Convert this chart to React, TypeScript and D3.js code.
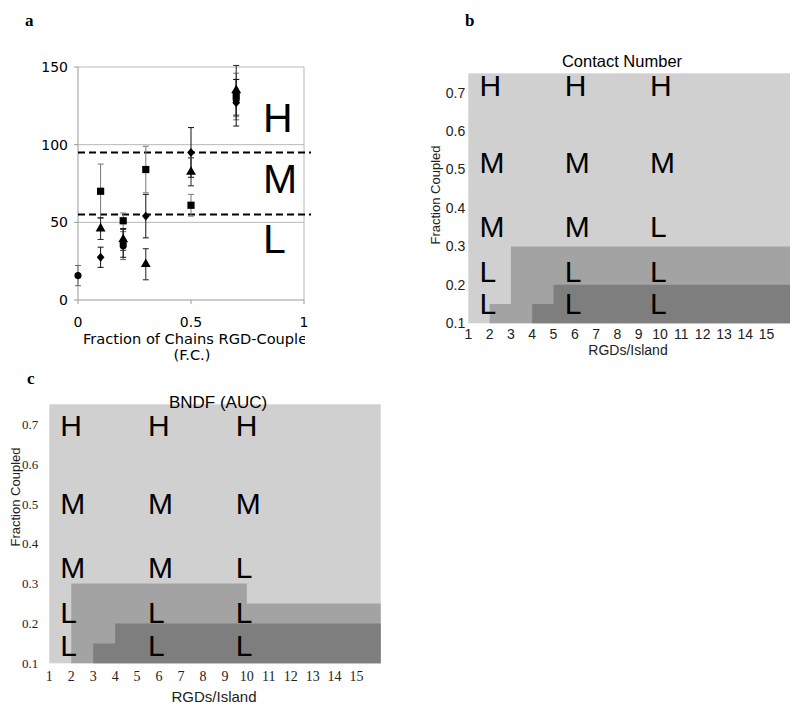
import React from "react";
import * as d3 from "d3";

// ---------- Panel a data ----------
const aXTicks = [0, 0.5, 1];
const aYTicks = [0, 50, 100, 150];
const aThresholds = [55, 95];
const aZoneLetters = ["H", "M", "L"];
const aZoneLetterY = [108, 69, 30]; // baseline in data units

const circleX = [0, 0.2, 0.7];
const circleY = [15.7, 35, 129];
const circleErr = [6.5, 9, 13];

const diamondX = [0.1, 0.2, 0.3, 0.5, 0.7];
const diamondY = [27.5, 36.5, 54, 95, 127];
const diamondErr = [6.5, 9, 14, 16, 15];

const triangleX = [0.1, 0.2, 0.3, 0.5, 0.7];
const triangleY = [46, 39, 23, 82.5, 135];
const triangleErr = [7, 7, 10, 9, 16];

const squareX = [0.1, 0.2, 0.3, 0.5, 0.7];
const squareY = [70, 51, 84, 61, 132];
const squareErr = [17.5, 5, 15, 7, 14];

// ---------- Panels b / c data ----------
const rgdTicks = [1, 2, 3, 4, 5, 6, 7, 8, 9, 10, 11, 12, 13, 14, 15];
const fracTicks = [0.1, 0.2, 0.3, 0.4, 0.5, 0.6, 0.7];
const rgdDomain = [1, 16.1];
const fracDomain = [0.1, 0.75];

const bMidX = [2, 3, 16.1];
const bMidTop = [0.15, 0.3, 0.3];
const bDarkX = [4, 5, 16.1];
const bDarkTop = [0.15, 0.2, 0.2];

const cMidX = [2, 10, 16.1];
const cMidTop = [0.3, 0.25, 0.25];
const cDarkX = [3, 4, 16.1];
const cDarkTop = [0.15, 0.2, 0.2];

const letterCols = [2, 6, 10];
const letterGrid = [
  ["H", "H", "H"],
  ["M", "M", "M"],
  ["M", "M", "L"],
  ["L", "L", "L"],
  ["L", "L", "L"],
];
const bLetterRows = [0.69, 0.49, 0.325, 0.2075, 0.124];
const cLetterRows = [0.671, 0.4735, 0.314, 0.2, 0.118];

const LIGHT = "#d0d0d0";
const MID = "#a3a3a3";
const DARK = "#7e7e7e";

const diamondSym = {
  draw(ctx: any, size: number) {
    const r = Math.sqrt(size / 2);
    ctx.moveTo(0, -r * 1.15);
    ctx.lineTo(r, 0);
    ctx.lineTo(0, r * 1.15);
    ctx.lineTo(-r, 0);
    ctx.closePath();
  },
};

function PanelA() {
  const left = 78, right = 304, top = 67, bottom = 300;
  const x = d3.scaleLinear().domain([0, 1]).range([left, right]);
  const y = d3.scaleLinear().domain([0, 150]).range([bottom, top]);
  const font = "'DejaVu Sans', Verdana, sans-serif";

  const series = [
    { xs: circleX, ys: circleY, es: circleErr, type: d3.symbolCircle, size: 40, ec: "#666" },
    { xs: squareX, ys: squareY, es: squareErr, type: d3.symbolSquare, size: 52, ec: "#777" },
    { xs: diamondX, ys: diamondY, es: diamondErr, type: diamondSym, size: 30, ec: "#111" },
    { xs: triangleX, ys: triangleY, es: triangleErr, type: d3.symbolTriangle, size: 42, ec: "#222" },
  ];

  return (
    <g>
      <text x={25} y={26} fontFamily="'Liberation Serif', serif" fontWeight="bold" fontSize={17}>a</text>
      {aYTicks.filter((t) => t > 0).map((t) => (
        <line key={t} x1={left} x2={right} y1={y(t)} y2={y(t)} stroke="#b8b8b8" strokeWidth={1} />
      ))}
      <line x1={right} x2={right} y1={top} y2={bottom} stroke="#b8b8b8" />
      <line x1={left} x2={left} y1={top} y2={bottom} stroke="#999" />
      <line x1={left} x2={right} y1={bottom} y2={bottom} stroke="#999" />
      {aYTicks.map((t) => (
        <g key={t}>
          <line x1={left - 4} x2={left} y1={y(t)} y2={y(t)} stroke="#999" />
          <text x={left - 10} y={y(t)} dy="0.36em" textAnchor="end" fontFamily={font} fontSize={14}>{t}</text>
        </g>
      ))}
      {aXTicks.map((t) => (
        <g key={t}>
          <line x1={x(t)} x2={x(t)} y1={bottom} y2={bottom + 4} stroke="#999" />
          <text x={x(t)} y={322} dy="0.36em" textAnchor="middle" fontFamily={font} fontSize={14}>{t}</text>
        </g>
      ))}
      <defs>
        <clipPath id="aclip">
          <rect x={0} y={320} width={right + 1} height={40} />
        </clipPath>
      </defs>
      <text x={83} y={339} dy="0.36em" fontFamily={font} fontSize={14.6} clipPath="url(#aclip)">Fraction of Chains RGD-Coupled</text>
      <text x={192} y={355} dy="0.36em" textAnchor="middle" fontFamily={font} fontSize={14.6}>(F.C.)</text>
      {aThresholds.map((t) => (
        <line key={t} x1={left} x2={311} y1={y(t)} y2={y(t)} stroke="#000" strokeWidth={2} strokeDasharray="7,4" />
      ))}
      {aZoneLetters.map((l, i) => (
        <text key={l} x={263} y={y(aZoneLetterY[i])} fontFamily="'Liberation Sans', Arial, sans-serif" fontSize={41}>{l}</text>
      ))}
      {series.map((s, si) => (
        <g key={"e" + si}>
          {s.xs.map((xv, i) => {
            const cx = x(xv);
            const y1 = y(s.ys[i] + s.es[i]);
            const y2 = y(s.ys[i] - s.es[i]);
            return (
              <g key={i} stroke={s.ec} strokeWidth={1}>
                <line x1={cx} x2={cx} y1={y1} y2={y2} />
                <line x1={cx - 3} x2={cx + 3} y1={y1} y2={y1} />
                <line x1={cx - 3} x2={cx + 3} y1={y2} y2={y2} />
              </g>
            );
          })}
        </g>
      ))}
      {series.map((s, si) => (
        <g key={"m" + si}>
          {s.xs.map((xv, i) => (
            <path key={i} transform={`translate(${x(xv)},${y(s.ys[i])})`} d={d3.symbol().type(s.type as any).size(s.size)() || ""} fill="#000" />
          ))}
        </g>
      ))}
    </g>
  );
}

function Heat(props: any) {
  const { left, right, top, bottom, midX, midTop, darkX, darkTop, rows, colOffset, title, titleY, titleX, label, labelX, labelY, tickFont, tickSize, xTickSize, yTickGap, xTickY, axisSize, titleSize, yLabelX, yLabelY, letterSize, panel, panelX, panelY } = props;
  const x = d3.scaleLinear().domain(rgdDomain).range([left, right]);
  const y = d3.scaleLinear().domain(fracDomain).range([bottom, top]);
  const area = d3
    .area<number>()
    .x((d: number) => x(d))
    .y0(() => y(0.1))
    .curve(d3.curveStepAfter);
  const midPath = area.y1((d: number, i: number) => y(midTop[i]))(midX) || "";
  const darkPath = area.y1((d: number, i: number) => y(darkTop[i]))(darkX) || "";
  const sans = "'Liberation Sans', Arial, sans-serif";
  return (
    <g>
      <text x={panelX} y={panelY} fontFamily="'Liberation Serif', serif" fontWeight="bold" fontSize={17}>{panel}</text>
      <rect x={left} y={top} width={right - left} height={bottom - top} fill={LIGHT} />
      <path d={midPath} fill={MID} />
      <path d={darkPath} fill={DARK} />
      <text x={titleX} y={titleY} textAnchor="middle" fontFamily={sans} fontSize={titleSize}>{title}</text>
      {letterGrid.map((row, ri) =>
        row.map((l, ci) => (
          <text key={ri + "-" + ci} x={x(letterCols[ci]) + colOffset} y={y(rows[ri])} fontFamily={sans} fontSize={letterSize}>{l}</text>
        ))
      )}
      {fracTicks.map((t) => (
        <text key={t} x={left - yTickGap} y={y(t)} dy="0.36em" textAnchor="end" fontFamily={tickFont} fontSize={tickSize} fill="#222">{t}</text>
      ))}
      {rgdTicks.map((t) => (
        <text key={t} x={x(t)} y={xTickY} dy="0.36em" textAnchor="middle" fontFamily={tickFont} fontSize={xTickSize} fill="#222">{t}</text>
      ))}
      <text x={labelX} y={labelY} dy="0.36em" textAnchor="middle" fontFamily={sans} fontSize={axisSize} fill="#222">{label}</text>
      <text transform={`translate(${yLabelX},${yLabelY}) rotate(-90)`} dy="0.36em" textAnchor="middle" fontFamily={sans} fontSize={13} fill="#222">Fraction Coupled</text>
    </g>
  );
}

export default function App() {
  return (
    <svg width={800} height={718} style={{ position: "absolute", left: 0, top: 0, background: "#fff" }}>
      <rect width={800} height={718} fill="#fff" />
      <PanelA />
      <Heat
        panel="b" panelX={465} panelY={26}
        left={468.3} right={790} top={73.3} bottom={323.3}
        midX={bMidX} midTop={bMidTop} darkX={bDarkX} darkTop={bDarkTop}
        rows={bLetterRows} colOffset={-10}
        title="Contact Number" titleX={622} titleY={67} titleSize={16.5}
        label="RGDs/Island" labelX={628} labelY={350}
        tickFont="'Liberation Sans', Arial, sans-serif" tickSize={14} xTickSize={14} yTickGap={3} xTickY={334}
        axisSize={14} yLabelX={435} yLabelY={195} letterSize={30}
      />
      <Heat
        panel="c" panelX={27} panelY={384}
        left={49.3} right={380.7} top={404.3} bottom={663.3}
        midX={cMidX} midTop={cMidTop} darkX={cDarkX} darkTop={cDarkTop}
        rows={cLetterRows} colOffset={-11}
        title="BNDF (AUC)" titleX={218} titleY={408} titleSize={17}
        label="RGDs/Island" labelX={214} labelY={697}
        tickFont="'Liberation Serif', 'Times New Roman', serif" tickSize={13} xTickSize={14} yTickGap={11} xTickY={676}
        axisSize={15} yLabelX={15} yLabelY={497} letterSize={30}
      />
    </svg>
  );
}
